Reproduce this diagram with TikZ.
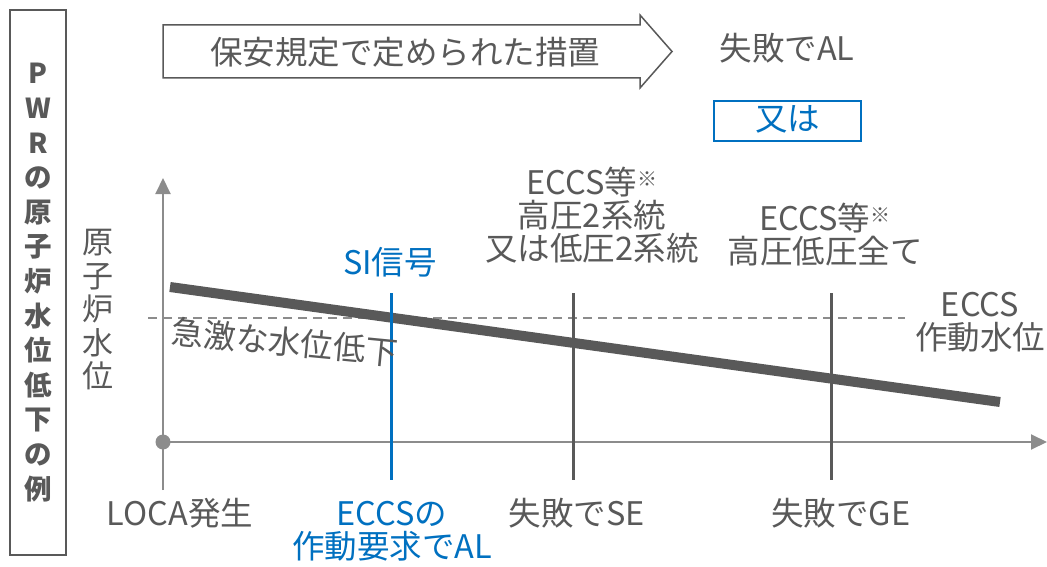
\documentclass[tikz,border=0pt]{standalone}
\usepackage{fontspec}
\setmainfont{Noto Sans CJK JP}
\usetikzlibrary{arrows.meta}
\definecolor{tg}{HTML}{595959}
\definecolor{ax}{HTML}{8C8C8C}
\definecolor{bl}{HTML}{0070C0}
\newcommand{\kome}{\raisebox{0.45ex}{\fontsize{20}{20}\selectfont ※}}
\tikzset{
  lbl/.style={inner sep=0pt, text=tg, font=\fontsize{32.5}{33}\selectfont, align=center},
  blbl/.style={lbl, text=bl},
  axis/.style={draw=ax, line width=2pt},
  mark line/.style={draw=tg, line width=3pt},
}
\begin{document}
\begin{tikzpicture}[x=1pt,y=-1pt]
\useasboundingbox (0,0) rectangle (1047,567);
% left title box
\node[draw=tg, line width=1.5pt, minimum width=56pt, minimum height=545pt, inner sep=0pt] (titlebox) at (38,282.5) {};
\node[inner sep=0pt, text=tg, font=\fontsize{27.5}{34.6}\selectfont\bfseries, align=center] (title) at (38,282.5)
  {P\\W\\R\\の\\原\\子\\炉\\水\\位\\低\\下\\の\\例};
% top arrow
\draw[draw=tg, line width=1.5pt, fill=white] (163,25) -- (640,25) -- (640,15) -- (672,51.5) -- (640,88) -- (640,78) -- (163,78) -- cycle;
\node[lbl] (measure) at (405,52) {保安規定で定められた措置};
\node[lbl] (failAL) at (787,48) {失敗でAL};
\node[draw=bl, line width=2pt, minimum width=147pt, minimum height=40pt, inner sep=0pt] (orbox) at (787.5,121) {};
\node[blbl] (ortext) at (787.5,119) {又は};
% axes
\coordinate (origin) at (163,442);
\coordinate (ytop) at (163,178);
\coordinate (ybot) at (163,490);
\coordinate (xend) at (1047,442);
\draw[axis, -{Triangle[length=16pt,width=15pt]}] (ybot) -- (ytop);
\draw[axis, -{Triangle[length=16pt,width=15pt]}] (origin) -- (xend);
\fill[ax] (origin) circle (7.5pt);
% dashed ECCS level
\coordinate (dashL) at (148,318);
\coordinate (dashR) at (905,318);
\draw[draw=ax, line width=2pt, dash pattern=on 9pt off 6pt] (dashL) -- (dashR);
% water level line
\coordinate (wl1) at (170,287);
\coordinate (wl2) at (1000,402);
\draw[draw=tg, line width=10pt] (wl1) -- (wl2);
% vertical markers
\coordinate (si1) at (391,293); \coordinate (si2) at (391,480);
\coordinate (se1) at (573,293); \coordinate (se2) at (573,480);
\coordinate (ge1) at (831,293); \coordinate (ge2) at (831,480);
\draw[draw=bl, line width=3pt] (si1) -- (si2);
\draw[mark line] (se1) -- (se2);
\draw[mark line] (ge1) -- (ge2);
% labels
\node[lbl, font=\fontsize{31}{33.5}\selectfont] (ylabel) at (98,310) {原\\子\\炉\\水\\位};
\node[blbl] (si) at (390,262) {SI信号};
\node[lbl] (eccs2) at (592,215) {ECCS等\kome\\高圧2系統\\又は低圧2系統};
\node[lbl] (eccsall) at (825,235) {ECCS等\kome\\高圧低圧全て};
\node[lbl] (eccslevel) at (980,322) {ECCS\\作動水位};
\node[lbl, rotate=-5.5] (rapid) at (285,342) {急激な水位低下};
\node[lbl] (loca) at (180,513) {LOCA発生};
\node[blbl] (eccsreq) at (392,531) {ECCSの\\作動要求でAL};
\node[lbl] (failSE) at (577,513) {失敗でSE};
\node[lbl] (failGE) at (841,513) {失敗でGE};
\end{tikzpicture}
\end{document}
